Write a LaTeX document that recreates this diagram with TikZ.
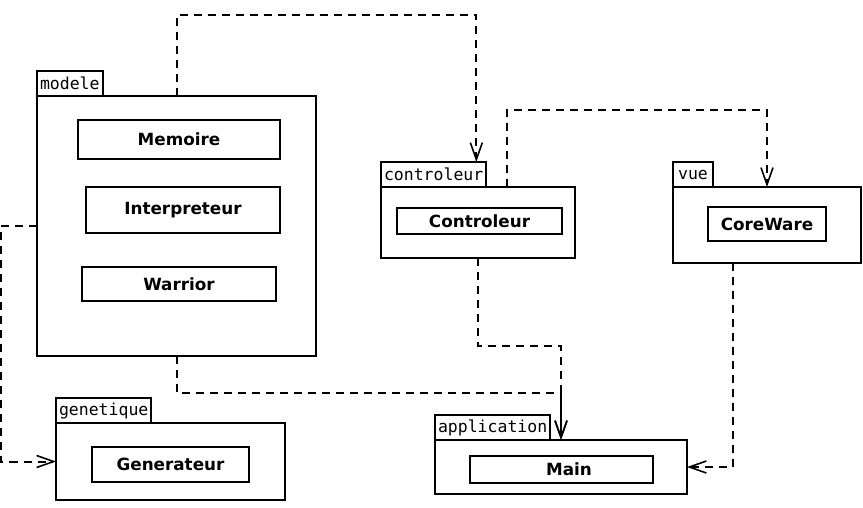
\documentclass[tikz,border=0pt]{standalone}
\usepackage{fontspec}
\setmainfont{DejaVu Sans}
\setmonofont{DejaVu Sans Mono}
\usepackage{tikz}
\usetikzlibrary{arrows.meta,positioning}
\tikzstyle{pkgbody} = [rectangle, draw=black, line width=2pt, fill=white, outer sep=0pt, anchor=north west]
\tikzstyle{pkgtab} = [rectangle, draw=black, line width=2pt, fill=white, outer sep=0pt, inner xsep=3pt, inner ysep=0pt, minimum height=25pt, font=\fontsize{16.5}{18}\ttfamily]
\tikzstyle{cls} = [rectangle, draw=black, line width=2pt, outer sep=0pt, text=black, text centered, font=\fontsize{16.8}{19}\bfseries]
\tikzstyle{dep} = [draw, line width=2pt, dash pattern=on 8pt off 6pt, -{Straight Barb[length=17pt,width=12pt,line width=1.6pt]}]

\begin{document}
\begin{tikzpicture}[x=1pt,y=-1pt]
\useasboundingbox (0,0) rectangle (863,507);

% packages =============================

% modele
\node[pkgbody, minimum width=279pt, minimum height=260pt] (modele) at (37,96) {};
\node[pkgtab, above right=0pt and 0pt of modele.north west] (modeletab) {modele};
\node[cls, minimum width=202pt, minimum height=39pt] (memoire) at (179,139.5) {Memoire};
\node[cls, minimum width=194pt, minimum height=46pt] (interp) at (183,210) {Interpreteur};
\node[cls, minimum width=194pt, minimum height=34pt] (warrior) at (179,284) {Warrior};

% controleur
\node[pkgbody, minimum width=194pt, minimum height=71pt] (ctl) at (381,187) {};
\node[pkgtab, above right=0pt and 0pt of ctl.north west] (ctltab) {controleur};
\node[cls, minimum width=165pt, minimum height=26pt] (controleur) at (479.5,221) {Controleur};

% vue
\node[pkgbody, minimum width=188pt, minimum height=76pt] (vue) at (673,187) {};
\node[pkgtab, minimum width=40pt, above right=0pt and 0pt of vue.north west] (vuetab) {vue};
\node[cls, minimum width=118pt, minimum height=34pt] (coreware) at (767,224) {CoreWare};

% genetique
\node[pkgbody, minimum width=229pt, minimum height=77pt] (gen) at (56,423) {};
\node[pkgtab, above right=0pt and 0pt of gen.north west] (gentab) {genetique};
\node[cls, minimum width=157pt, minimum height=35pt] (generateur) at (170.5,464.5) {Generateur};

% application
\node[pkgbody, minimum width=252pt, minimum height=54pt] (app) at (435,440) {};
\node[pkgtab, above right=0pt and 0pt of app.north west] (apptab) {application};
\node[cls, minimum width=183pt, minimum height=27pt, text width=167pt, align=center] (main) at (561.5,469.5) {\hspace*{15pt}Main};

%edges
\path[dep] (modele.north) -- ++(0,-81) -| ([xshift=-10pt]ctltab.north east);
\path[dep] ([xshift=126pt]ctl.north west) -- ++(0,-77) -| (vue.north);
\path[dep] (ctl.south) -- ++(0,88) -| (app.north);
\path[dep] (modele.south) -- ++(0,37) -| (app.north);
\path[dep] ([xshift=-34pt]vue.south) |- (app.east);
\path[dep] (modele.west) -- ++(-36,0) |- (gen.west);

\end{tikzpicture}
\end{document}
